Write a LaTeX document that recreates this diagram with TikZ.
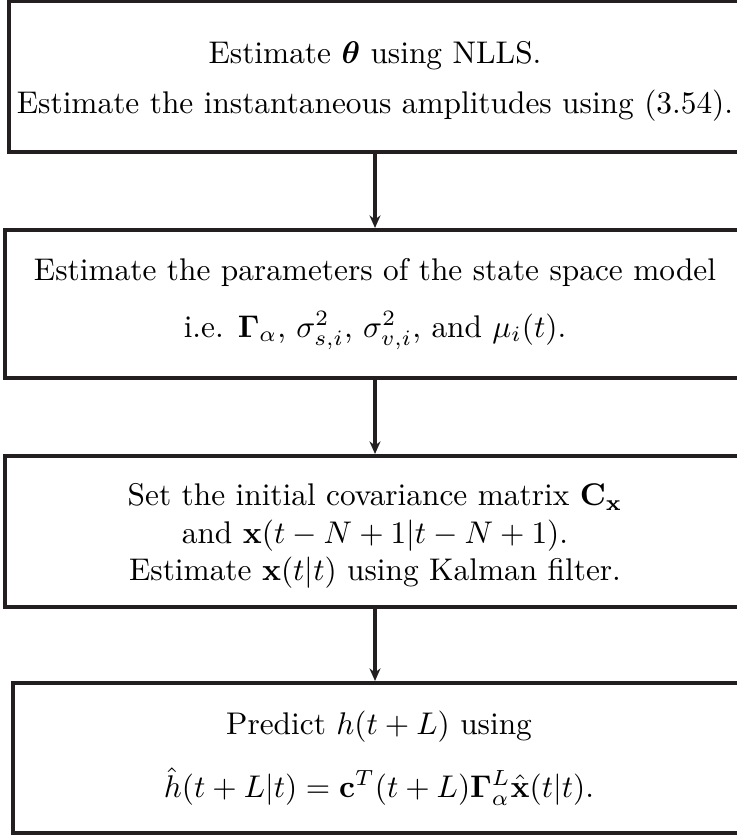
\documentclass[tikz,border=0pt]{standalone}
\usepackage{amsmath,amssymb,bm}
\usetikzlibrary{arrows.meta}
\definecolor{boxline}{HTML}{231F20}
\tikzset{
  flowbox/.style={rectangle, draw=boxline, line width=1.3pt, inner sep=0pt, align=center, font=\normalsize},
  flowedge/.style={-{Stealth[length=4pt,width=3.5pt]}, line width=1pt, draw=boxline}
}

\begin{document}
\begin{tikzpicture}[x=0.319pt, y=-0.319pt]
  \useasboundingbox (0,0) rectangle (737,835);

  \node[flowbox, minimum width=732*0.319pt, minimum height=151*0.319pt] (nlls) at (375,76.5)
    {\rule{0pt}{10pt}Estimate $\bm{\theta}$ using NLLS.\\[4pt]
     Estimate the instantaneous amplitudes using (3.54).};
  \node[flowbox, minimum width=740*0.319pt, minimum height=148*0.319pt] (ssm) at (375,304)
    {Estimate the parameters of the state space model\\[6pt]
     i.e. $\mathbf{\Gamma}_\alpha$, $\sigma^2_{s,i}$, $\sigma^2_{v,i}$, and $\mu_i(t)$.};
  \node[flowbox, minimum width=740*0.319pt, minimum height=151*0.319pt] (kalman) at (375,531.5)
    {\rule{0pt}{10pt}Set the initial covariance matrix $\mathbf{C}_{\mathbf{x}}$\\
     and $\mathbf{x}(t-N+1|t-N+1)$.\\
     Estimate $\mathbf{x}(t|t)$ using Kalman filter.};
  \node[flowbox, minimum width=732*0.319pt, minimum height=150*0.319pt] (pred) at (379,758)
    {Predict $h(t+L)$ using\\[7pt]
     $\hat{h}(t+L|t)=\mathbf{c}^T(t+L)\mathbf{\Gamma}_\alpha^L\hat{\mathbf{x}}(t|t)$.};

  \draw[flowedge] (nlls.south) -- (ssm.north);
  \draw[flowedge] (ssm.south) -- (kalman.north);
  \draw[flowedge] (kalman.south) -- (kalman.south |- pred.north);
\end{tikzpicture}
\end{document}
